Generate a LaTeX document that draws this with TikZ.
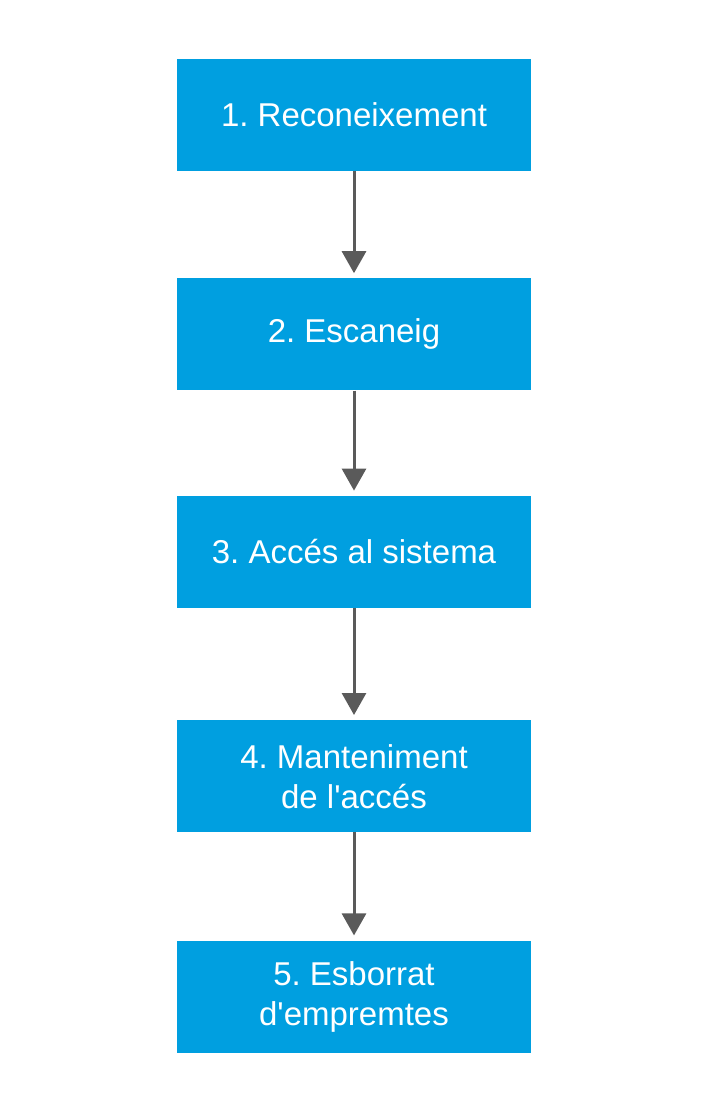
\documentclass[tikz,border=0pt]{standalone}
\usepackage{fontspec}
\setmainfont{Liberation Sans}
\usetikzlibrary{arrows.meta,positioning}
\definecolor{stepblue}{HTML}{009FE0}
\definecolor{arrowgray}{HTML}{5A5A5A}
\frenchspacing
\begin{document}
\begin{tikzpicture}[
  x=1pt, y=1pt,
  phase/.style={fill=stepblue, text=white, align=center, inner sep=0pt,
    minimum width=354pt, minimum height=112pt,
    font=\fontsize{33}{40}\selectfont},
  arrow/.style={-{Triangle[width=24pt, length=22pt]}, line width=3pt, draw=arrowgray, shorten >=5pt}
]
\useasboundingbox (0,0) rectangle (709,-1114);
\node[phase] (recon) at (354,-115) {1. Reconeixement};
\node[phase, below=107pt of recon] (scan) {2. Escaneig};
\node[phase, below=105pt of scan] (access) {3. Accés al sistema};
\node[phase, below=112pt of access] (keep) {4. Manteniment\\de l\textquotesingle accés};
\node[phase, below=108pt of keep] (erase) {5. Esborrat\\d\textquotesingle empremtes};
\draw[arrow] (recon) -- (scan);
\draw[arrow] (scan) -- (access);
\draw[arrow] (access) -- (keep);
\draw[arrow] (keep) -- (erase);
\end{tikzpicture}
\end{document}
